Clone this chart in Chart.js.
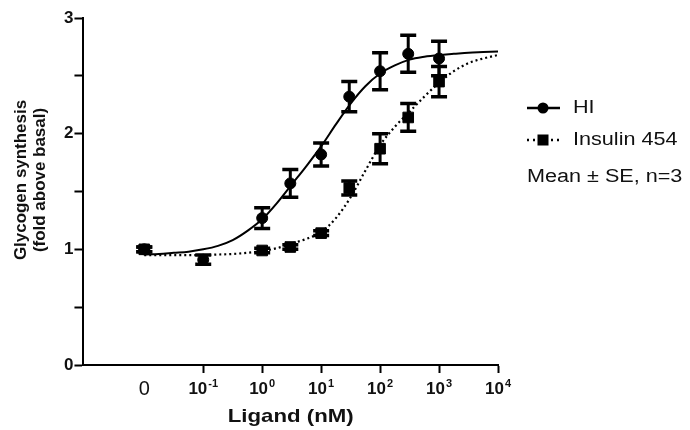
<!DOCTYPE html>
<html>
<head>
<meta charset="utf-8">
<script src="https://cdn.jsdelivr.net/npm/chart.js@4.4.0/dist/chart.umd.min.js"></script>
<style>
  body { margin: 0; background: #fff; }
</style>
</head>
<body>
<canvas id="doseChart" width="690" height="430"></canvas>
<script>
// dose "0" is drawn at 0.01 nM, as on the original axis
const hiDose = [0.01, 0.1, 1, 3, 10, 30, 100, 300, 1000];
const hiMean = [1.00, 0.91, 1.27, 1.57, 1.82, 2.32, 2.54, 2.69, 2.65];
const hiSE   = [0.02, 0.04, 0.09, 0.12, 0.10, 0.13, 0.16, 0.16, 0.15];

const insDose = [0.01, 1, 3, 10, 30, 100, 300, 1000];
const insMean = [1.00, 0.99, 1.02, 1.14, 1.53, 1.87, 2.14, 2.45];
const insSE   = [0.02, 0.02, 0.02, 0.02, 0.06, 0.13, 0.12, 0.13];

// fitted curves every quarter decade (log10 nM)
const curveLogDose = [-2, -1.75, -1.5, -1.25, -1, -0.75, -0.5, -0.25, 0, 0.25, 0.5, 0.75, 1,
                      1.25, 1.5, 1.75, 2, 2.25, 2.5, 2.75, 3, 3.25, 3.5, 3.75, 4];
const hiCurve  = [0.955, 0.96, 0.97, 0.98, 1.00, 1.03, 1.08, 1.16, 1.26, 1.40, 1.56, 1.72, 1.89,
                  2.08, 2.26, 2.41, 2.52, 2.59, 2.64, 2.665, 2.68, 2.69, 2.70, 2.705, 2.71];
const insCurve = [0.95, 0.95, 0.95, 0.95, 0.95, 0.955, 0.96, 0.97, 0.985, 1.01, 1.05, 1.09, 1.15,
                  1.27, 1.45, 1.68, 1.90, 2.06, 2.19, 2.32, 2.44, 2.54, 2.61, 2.65, 2.68];

const xTickExps = [-1, 0, 1, 2, 3, 4];
const yTicks = [0, 1, 2, 3];

const FONT = '"Liberation Sans", Arial, sans-serif';
const INK = '#111';

const pts = (xs, ys) => xs.map((x, i) => ({ x: x, y: ys[i] }));
const curvePts = ys => curveLogDose.map((e, i) => ({ x: Math.pow(10, e), y: ys[i] }));

const errorBars = {
    id: 'errorBars',
    afterDatasetsDraw(chart) {
        const { ctx, scales: { x, y } } = chart;
        chart.data.datasets.forEach(ds => {
            if (!ds.errors) return;
            ctx.save();
            ctx.strokeStyle = '#000';
            ds.data.forEach((p, j) => {
                const e = ds.errors[j];
                const px = x.getPixelForValue(p.x);
                const top = y.getPixelForValue(p.y + e);
                const bot = y.getPixelForValue(p.y - e);
                ctx.lineWidth = 3;
                ctx.beginPath();
                ctx.moveTo(px, top); ctx.lineTo(px, bot);
                ctx.stroke();
                ctx.lineWidth = 3.5;
                ctx.beginPath();
                ctx.moveTo(px - 8, top); ctx.lineTo(px + 8, top);
                ctx.moveTo(px - 8, bot); ctx.lineTo(px + 8, bot);
                ctx.stroke();
            });
            ctx.restore();
        });
    }
};

function wideText(ctx, text, x, y, sx, align) {
    ctx.save();
    ctx.translate(x, y);
    ctx.scale(sx, 1);
    ctx.textAlign = align;
    ctx.fillText(text, 0, 0);
    ctx.restore();
}

const labels = {
    id: 'labels',
    afterDraw(chart) {
        const { ctx, chartArea: area, scales: { x } } = chart;
        ctx.save();
        ctx.fillStyle = INK;
        ctx.textBaseline = 'alphabetic';

        // x tick labels: "0" then 10 with raised exponent
        ctx.font = '20px ' + FONT;
        ctx.textAlign = 'center';
        ctx.fillText('0', x.getPixelForValue(0.01), 395);
        ctx.textAlign = 'left';
        xTickExps.forEach(e => {
            const px = x.getPixelForValue(Math.pow(10, e));
            const exp = String(e);
            ctx.font = 'bold 17px ' + FONT;
            const wBase = ctx.measureText('10').width;
            ctx.font = 'bold 11px ' + FONT;
            const wExp = ctx.measureText(exp).width;
            const start = px - (wBase + wExp + 1) / 2;
            ctx.font = 'bold 17px ' + FONT;
            ctx.fillText('10', start, 394);
            ctx.font = 'bold 11px ' + FONT;
            ctx.fillText(exp, start + wBase + 1, 387);
        });

        // x title
        ctx.font = 'bold 19px ' + FONT;
        wideText(ctx, 'Ligand (nM)', (area.left + area.right) / 2, 422, 1.17, 'center');

        // y title, two lines
        ctx.font = 'bold 16px ' + FONT;
        ctx.textBaseline = 'middle';
        [['Glycogen synthesis', 22], ['(fold above basal)', 41]].forEach(([t, cx]) => {
            ctx.save();
            ctx.translate(cx, 180);
            ctx.rotate(-Math.PI / 2);
            ctx.scale(1.06, 1);
            ctx.textAlign = 'center';
            ctx.fillText(t, 0, 0);
            ctx.restore();
        });

        // legend
        ctx.strokeStyle = '#000';
        ctx.fillStyle = '#000';
        ctx.lineWidth = 2.5;
        ctx.beginPath(); ctx.moveTo(527, 108); ctx.lineTo(560, 108); ctx.stroke();
        ctx.beginPath(); ctx.arc(543, 108, 5.5, 0, Math.PI * 2); ctx.fill();
        ctx.setLineDash([2, 4]);
        ctx.beginPath(); ctx.moveTo(527, 140); ctx.lineTo(560, 140); ctx.stroke();
        ctx.setLineDash([]);
        ctx.fillRect(537.5, 134.5, 11, 11);

        ctx.fillStyle = INK;
        ctx.font = '18px ' + FONT;
        wideText(ctx, 'HI', 573, 108, 1.2, 'left');
        wideText(ctx, 'Insulin 454', 573, 140, 1.2, 'left');
        wideText(ctx, 'Mean \u00b1 SE, n=3', 527, 177, 1.2, 'left');
        ctx.restore();
    }
};

new Chart(document.getElementById('doseChart'), {
    type: 'line',
    data: {
        datasets: [
            {
                label: 'HI fit',
                data: curvePts(hiCurve),
                borderColor: '#000',
                borderWidth: 2,
                pointRadius: 0,
                cubicInterpolationMode: 'monotone'
            },
            {
                label: 'Insulin 454 fit',
                data: curvePts(insCurve),
                borderColor: '#000',
                borderWidth: 2.2,
                borderDash: [2, 3],
                pointRadius: 0,
                cubicInterpolationMode: 'monotone'
            },
            {
                label: 'HI',
                data: pts(hiDose, hiMean),
                errors: hiSE,
                showLine: false,
                pointStyle: 'circle',
                pointRadius: 5.5,
                backgroundColor: '#000',
                borderColor: '#000'
            },
            {
                label: 'Insulin 454',
                data: pts(insDose, insMean),
                errors: insSE,
                showLine: false,
                pointStyle: 'rect',
                pointRadius: 7.5,
                backgroundColor: '#000',
                borderColor: '#000'
            }
        ]
    },
    options: {
        responsive: false,
        animation: false,
        layout: { padding: { left: 63, right: 192, top: 18, bottom: 57 } },
        plugins: {
            legend: { display: false },
            tooltip: { enabled: false }
        },
        scales: {
            x: {
                type: 'logarithmic',
                min: 0.00093,
                max: 10000,
                afterBuildTicks: scale => {
                    scale.ticks = xTickExps.map(e => ({ value: Math.pow(10, e) }));
                },
                ticks: { display: false },
                grid: { drawOnChartArea: false, tickLength: 8, tickColor: '#000', tickWidth: 2 },
                border: { color: '#000', width: 2 }
            },
            y: {
                min: 0,
                max: 3,
                ticks: {
                    stepSize: 0.5,
                    padding: 1,
                    color: INK,
                    font: { family: FONT, size: 17, weight: 'bold' },
                    callback: v => yTicks.includes(v) ? String(v) : ''
                },
                grid: { drawOnChartArea: false, tickLength: 9, tickColor: '#000', tickWidth: 2 },
                border: { color: '#000', width: 2 }
            }
        }
    },
    plugins: [errorBars, labels]
});
</script>
</body>
</html>
